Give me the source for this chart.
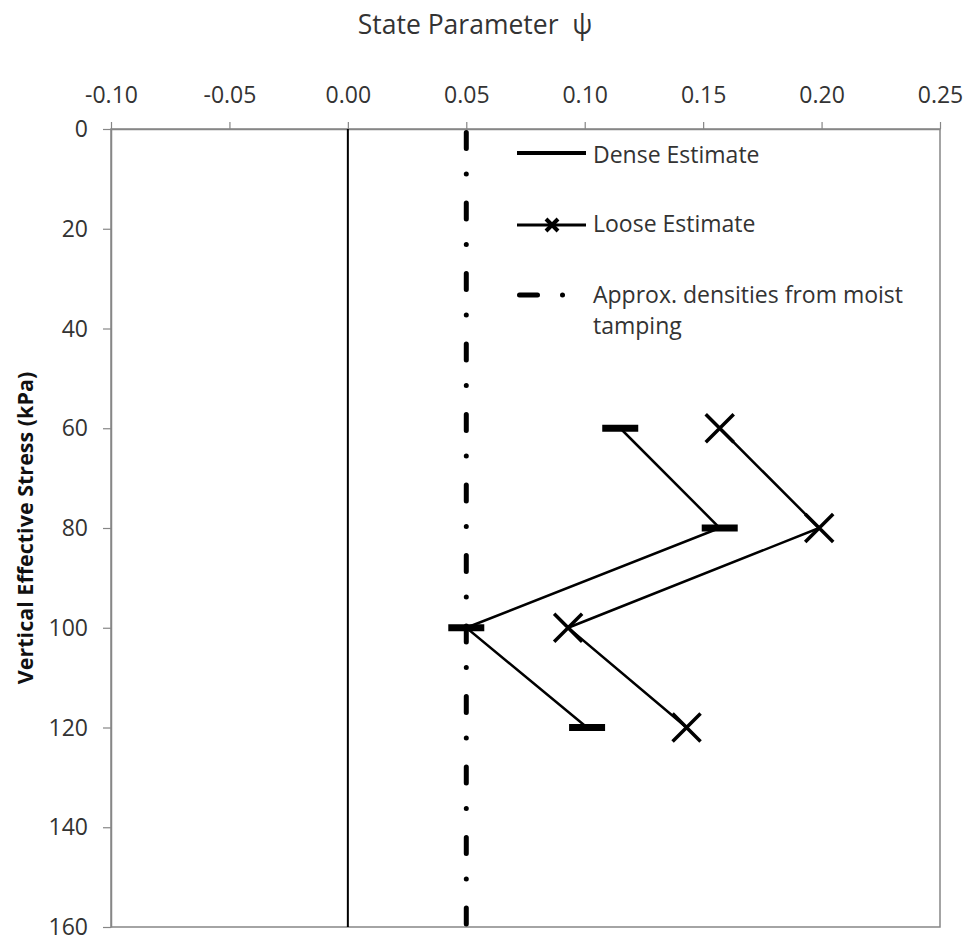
<!DOCTYPE html>
<html>
<head>
<meta charset="utf-8">
<script src="https://cdn.jsdelivr.net/npm/d3@7"></script>
<style>
	html, body { margin: 0; padding: 0; background: #fff; }
	svg { display: block; font-family: 'Open Sans', sans-serif; }
</style>
</head>
<body>
<div id="state-parameter-chart"></div>
<script>
/* global d3 */

// Values
const stressLevels = [ 60, 80, 100, 120 ];
const denseEstimate = [ 0.115, 0.157, 0.050, 0.101 ];
const looseEstimate = [ 0.157, 0.199, 0.093, 0.143 ];
const moistTampingPsi = 0.05;

const xTickValues = [ -0.10, -0.05, 0, 0.05, 0.10, 0.15, 0.20, 0.25 ];
const xTickLabels = [ '-0.10', '-0.05', '0.00', '0.05', '0.10', '0.15', '0.20', '0.25' ];
const yTickValues = [ 0, 20, 40, 60, 80, 100, 120, 140, 160 ];

const legendLabels = [ 'Dense Estimate', 'Loose Estimate', 'Approx. densities from moist', 'tamping' ];

function drawChart() {
	const width = 966,
		height = 938;
	const plot = { left: 111, right: 940, top: 129, bottom: 927 };
	const textColor = '#333';
	const frameColor = '#868686';

	const svg = d3
		.select( '#state-parameter-chart' )
		.append( 'svg' )
		.attr( 'width', width )
		.attr( 'height', height );

	const x = d3
		.scaleLinear()
		.domain( [ xTickValues[ 0 ], xTickValues[ xTickValues.length - 1 ] ] )
		.range( [ plot.left, plot.right ] );

	const y = d3
		.scaleLinear()
		.domain( [ yTickValues[ 0 ], yTickValues[ yTickValues.length - 1 ] ] )
		.range( [ plot.top, plot.bottom ] );

	// Frame (right and bottom sides)
	svg
		.append( 'rect' )
		.attr( 'x', plot.left )
		.attr( 'y', plot.top )
		.attr( 'width', plot.right - plot.left )
		.attr( 'height', plot.bottom - plot.top )
		.attr( 'fill', 'none' )
		.attr( 'stroke', frameColor )
		.attr( 'stroke-width', 1.5 );

	// Top axis
	const xAxis = svg
		.append( 'g' )
		.attr( 'transform', `translate(0,${ plot.top })` )
		.call(
			d3
				.axisTop( x )
				.tickValues( xTickValues )
				.tickSize( 7 )
				.tickSizeOuter( 0 )
				.tickFormat( ( d, i ) => xTickLabels[ i ] ),
		);

	// Left axis
	const yAxis = svg
		.append( 'g' )
		.attr( 'transform', `translate(${ plot.left },0)` )
		.call(
			d3
				.axisLeft( y )
				.tickValues( yTickValues )
				.tickSize( 8 )
				.tickSizeOuter( 0 ),
		);

	[ xAxis, yAxis ].forEach( ( axis ) => {
		axis.select( '.domain' ).attr( 'stroke', frameColor ).attr( 'stroke-width', 1.5 );
		axis.selectAll( '.tick line' ).attr( 'stroke', frameColor ).attr( 'stroke-width', 1.2 );
		axis
			.selectAll( '.tick text' )
			.attr( 'fill', textColor )
			.style( 'font-size', '23px' )
			.style( 'font-family', '\'Open Sans\', sans-serif' );
	} );

	xAxis.selectAll( '.tick text' ).attr( 'y', -26 ).attr( 'dy', 0 );
	yAxis.selectAll( '.tick text' ).attr( 'x', -23 ).attr( 'dy', '0.33em' );

	// Titles
	svg
		.append( 'text' )
		.attr( 'x', 475 )
		.attr( 'y', 34 )
		.attr( 'text-anchor', 'middle' )
		.attr( 'fill', textColor )
		.style( 'font-size', '26.5px' )
		.style( 'white-space', 'pre' )
		.text( 'State Parameter  ψ' );

	svg
		.append( 'text' )
		.attr( 'transform', 'translate(33,528) rotate(-90)' )
		.attr( 'text-anchor', 'middle' )
		.attr( 'fill', '#111' )
		.style( 'font-size', '21.5px' )
		.style( 'font-weight', 'bold' )
		.text( 'Vertical Effective Stress (kPa)' );

	// Zero line
	svg
		.append( 'line' )
		.attr( 'x1', x( 0 ) )
		.attr( 'x2', x( 0 ) )
		.attr( 'y1', y( 0 ) )
		.attr( 'y2', y( 160 ) )
		.attr( 'stroke', '#000' )
		.attr( 'stroke-width', 2 );

	// Moist tamping dash-dot line
	svg
		.append( 'line' )
		.attr( 'x1', x( moistTampingPsi ) )
		.attr( 'x2', x( moistTampingPsi ) )
		.attr( 'y1', y( 0 ) )
		.attr( 'y2', y( 160 ) )
		.attr( 'stroke', '#000' )
		.attr( 'stroke-width', 5 )
		.attr( 'stroke-linecap', 'round' )
		.attr( 'stroke-dasharray', '16 25.5 0.01 29' )
		.attr( 'stroke-dashoffset', -3.5 );

	const denseData = stressLevels.map( ( s, i ) => ( { stress: s, psi: denseEstimate[ i ] } ) );
	const looseData = stressLevels.map( ( s, i ) => ( { stress: s, psi: looseEstimate[ i ] } ) );

	const line = d3
		.line()
		.x( ( d ) => x( d.psi ) )
		.y( ( d ) => y( d.stress ) );

	[ denseData, looseData ].forEach( ( data ) => {
		svg
			.append( 'path' )
			.datum( data )
			.attr( 'fill', 'none' )
			.attr( 'stroke', '#000' )
			.attr( 'stroke-width', 2.5 )
			.attr( 'd', line );
	} );

	// Dense markers: horizontal bars
	svg
		.selectAll( '.dense-marker' )
		.data( denseData )
		.enter()
		.append( 'rect' )
		.attr( 'class', 'dense-marker' )
		.attr( 'x', ( d ) => x( d.psi ) - 18 )
		.attr( 'y', ( d ) => y( d.stress ) - 3.5 )
		.attr( 'width', 36 )
		.attr( 'height', 7 )
		.attr( 'fill', '#000' );

	// Loose markers: crosses
	const cross = ( s ) => `M${ -s },${ -s }L${ s },${ s }M${ -s },${ s }L${ s },${ -s }`;
	svg
		.selectAll( '.loose-marker' )
		.data( looseData )
		.enter()
		.append( 'path' )
		.attr( 'class', 'loose-marker' )
		.attr( 'transform', ( d ) => `translate(${ x( d.psi ) },${ y( d.stress ) })` )
		.attr( 'd', cross( 14 ) )
		.attr( 'stroke', '#000' )
		.attr( 'stroke-width', 3.5 )
		.attr( 'fill', 'none' );

	// Legend
	const legend = svg.append( 'g' ).attr( 'transform', 'translate(517,0)' );
	const legendText = ( yPos, label ) => {
		legend
			.append( 'text' )
			.attr( 'x', 76 )
			.attr( 'y', yPos )
			.attr( 'fill', textColor )
			.style( 'font-size', '23px' )
			.text( label );
	};

	legend
		.append( 'line' )
		.attr( 'x1', 0 )
		.attr( 'x2', 69 )
		.attr( 'y1', 153 )
		.attr( 'y2', 153 )
		.attr( 'stroke', '#000' )
		.attr( 'stroke-width', 4 );
	legendText( 163, legendLabels[ 0 ] );

	legend
		.append( 'line' )
		.attr( 'x1', 0 )
		.attr( 'x2', 69 )
		.attr( 'y1', 225 )
		.attr( 'y2', 225 )
		.attr( 'stroke', '#000' )
		.attr( 'stroke-width', 3 );
	legend
		.append( 'path' )
		.attr( 'transform', 'translate(35,225)' )
		.attr( 'd', cross( 6 ) )
		.attr( 'stroke', '#000' )
		.attr( 'stroke-width', 4 );
	legendText( 232, legendLabels[ 1 ] );

	legend
		.append( 'line' )
		.attr( 'x1', 2.5 )
		.attr( 'x2', 60 )
		.attr( 'y1', 295 )
		.attr( 'y2', 295 )
		.attr( 'stroke', '#000' )
		.attr( 'stroke-width', 5 )
		.attr( 'stroke-linecap', 'round' )
		.attr( 'stroke-dasharray', '18 25 0.01 100' );
	legendText( 303, legendLabels[ 2 ] );
	legendText( 334, legendLabels[ 3 ] );
}

drawChart();
</script>
</body>
</html>
